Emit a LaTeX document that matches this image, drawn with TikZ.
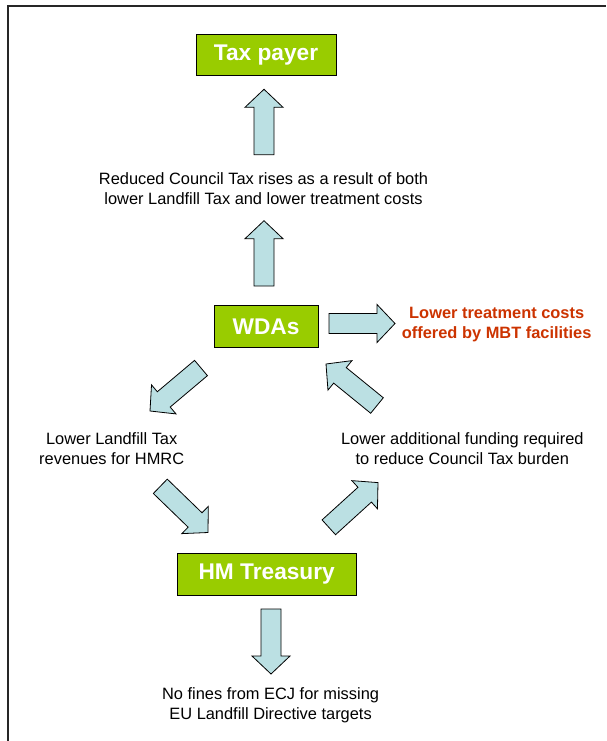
\documentclass[tikz,border=0pt]{standalone}
\usepackage{fontspec}
\setmainfont{Liberation Sans}
\usetikzlibrary{calc}
\definecolor{boxgreen}{HTML}{99CC00}
\definecolor{arrowblue}{HTML}{BBE0E3}
\definecolor{costred}{HTML}{CC3300}
\newcommand\blockarr[2]{%
  \coordinate (hb) at ($(#2)!18pt!(#1)$);
  \draw[barrow] ($(#1)!10pt!90:(#2)$) -- ($(hb)!10pt!90:(#2)$) -- ($(hb)!19pt!90:(#2)$) -- (#2)
    -- ($(hb)!19pt!-90:(#2)$) -- ($(hb)!10pt!-90:(#2)$) -- ($(#1)!10pt!-90:(#2)$) -- cycle;}
\begin{document}
\begin{tikzpicture}[x=1pt,y=-1pt,
  entity/.style={draw=black, line width=0.8pt, fill=boxgreen, text=white,
    font=\fontsize{22.7}{26}\selectfont\bfseries, inner sep=0pt},
  barrow/.style={draw=black, line width=0.8pt, fill=arrowblue, line join=miter},
  note/.style={align=center, font=\fontsize{16.4}{20}\selectfont, inner sep=0pt}]
\useasboundingbox (0,0) rectangle (606,741);
\draw[line width=1.6pt, black!85] (8,741) -- (8,6) -- (606,6);

\node[entity, minimum width=140pt, minimum height=41.5pt] (tax) at (266,54.7) {Tax payer};
\node[entity, minimum width=104pt, minimum height=42pt] (wda) at (266,326.3) {WDAs};
\node[entity, minimum width=179pt, minimum height=42pt] (hmt) at (266.7,574) {HM Treasury};

\node[note] (council) at (263.5,189) {Reduced Council Tax rises as a result of both\\lower Landfill Tax and lower treatment costs};
\node[note, text=costred, font=\fontsize{16.4}{20}\selectfont\bfseries] (mbt) at (496.7,325) {Lower treatment costs\\offered by MBT facilities};
\node[note] (hmrc) at (111.7,448.3) {Lower Landfill Tax\\revenues for HMRC};
\node[note] (funding) at (462.3,448.3) {Lower additional funding required\\to reduce Council Tax burden};
\node[note] (ecj) at (270.6,705.7) {No fines from ECJ for missing\\EU Landfill Directive targets};

\coordinate (a1t) at (264,154.7); \coordinate (a1h) at (264,89.3);
\coordinate (a2t) at (264,286);   \coordinate (a2h) at (264,220.7);
\coordinate (a3t) at (329,323.5); \coordinate (a3h) at (395,323.5);
\coordinate (a4t) at (201,368);   \coordinate (a4h) at (150,411);
\coordinate (a5t) at (377,405.5); \coordinate (a5h) at (326,364);
\coordinate (a6t) at (160.3,486.3); \coordinate (a6h) at (208,532.5);
\coordinate (a7t) at (328.8,527.3); \coordinate (a7h) at (378,482.6);
\coordinate (a8t) at (271,609);   \coordinate (a8h) at (271,674);

\blockarr{a1t}{a1h}
\blockarr{a2t}{a2h}
\blockarr{a3t}{a3h}
\blockarr{a4t}{a4h}
\blockarr{a5t}{a5h}
\blockarr{a6t}{a6h}
\blockarr{a7t}{a7h}
\blockarr{a8t}{a8h}
\end{tikzpicture}
\end{document}
